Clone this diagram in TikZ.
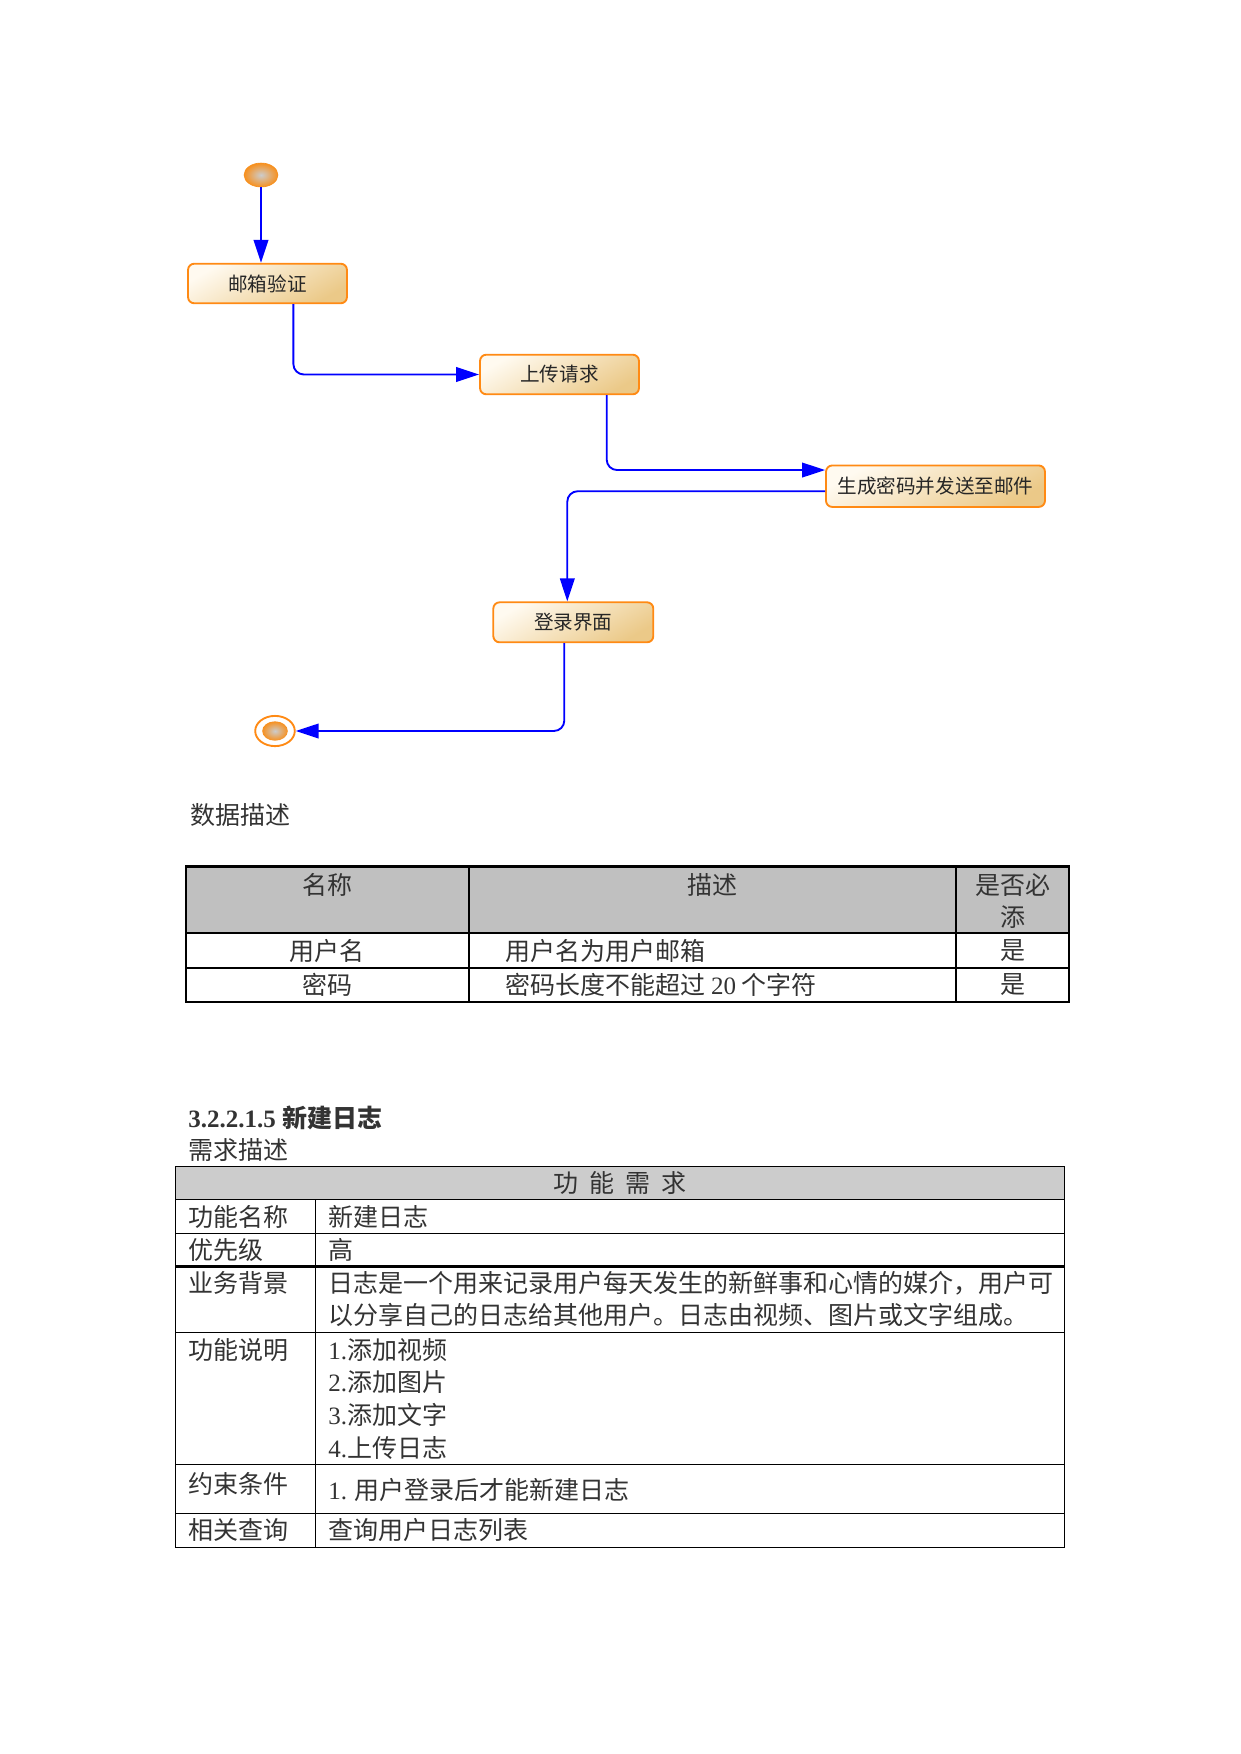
\documentclass[tikz,border=0pt]{standalone}
\usepackage{fontspec}
\setmainfont{Liberation Serif}
\newfontfamily\cjk{Noto Sans CJK SC}
\usetikzlibrary{arrows.meta,shapes.geometric}
\newcommand\latn[1]{{\rmfamily #1}}
\definecolor{boxline}{HTML}{FF8A14}
\definecolor{boxlight}{HTML}{FFFAF0}
\definecolor{boxdark}{HTML}{EBC988}
\definecolor{dotorange}{HTML}{F7901E}
\definecolor{flowblue}{HTML}{0000FF}
\definecolor{headgray}{HTML}{C0C0C0}
\definecolor{headgrayb}{HTML}{CCCCCC}
\tikzset{
  actbox/.style = {rectangle, rounded corners = 3pt, draw = boxline, line width = 0.9pt,
    top color = boxlight, bottom color = boxdark, shading angle = 30, inner sep = 0pt,
    font = \cjk\fontsize{9.4}{11}\selectfont, text = black!85},
  startdot/.style = {ellipse, inner sep = 0pt, minimum width = 16.3pt, minimum height = 11.5pt,
    inner color = gray!40, outer color = dotorange, draw = dotorange, line width = 0.3pt},
  finalring/.style = {ellipse, inner sep = 0pt, minimum width = 19pt, minimum height = 14.5pt,
    draw = boxline, line width = 0.9pt},
  finaldot/.style = {ellipse, inner sep = 0pt, minimum width = 12.3pt, minimum height = 9.3pt,
    inner color = gray!40, outer color = dotorange},
  flow/.style = {draw = flowblue, line width = 0.9pt, rounded corners = 5pt,
    -{Triangle[length = 11pt, width = 7pt]}},
  txt/.style = {inner sep = 0pt, font = \cjk\fontsize{12}{14}\selectfont, text = black!80},
  thickrule/.style = {line width = 1pt},
  thinrule/.style = {line width = 0.6pt}
}
\begin{document}
\begin{tikzpicture}[x = 0.48pt, y = -0.48pt]
\useasboundingbox (0,0) rectangle (1241,1754);

\node[startdot] (init) at (261,175) {};
\node[actbox, minimum width = 76.3pt, minimum height = 19pt] (verify) at (267.5,283.5) {邮箱验证};
\node[actbox, minimum width = 76.3pt, minimum height = 19pt] (upload) at (559.5,374.5) {上传请求};
\node[actbox, minimum width = 105.1pt, minimum height = 19.9pt] (genpwd) at (935.5,486.2) {生成密码并发送至邮件};
\node[actbox, minimum width = 76.8pt, minimum height = 19.2pt] (login) at (573.3,622.3) {登录界面};
\node[finalring] (final) at (275,731) {};
\node[finaldot] (finalcore) at (final.center) {};

\draw[flow] (init) -- (init |- verify.north);
\draw[flow] ([shift = {(106.3,0)}]verify.south west) |- (upload.west);
\draw[flow] ([shift = {(127.6,0)}]upload.south west) |- ([shift = {(0,5.5)}]genpwd.north west);
\draw[flow] ([shift = {(0,5)}]genpwd.west) -| ([shift = {(-6,0)}]login.north);
\draw[flow] ([shift = {(-9,0)}]login.south) |- (final.east);

\node[txt, anchor = west] (datatitle) at (190,815) {数据描述};

\fill[headgray] (185.7,866.5) rectangle (1069.3,933.3);
\draw[thickrule] (185.7,866.5) rectangle (1069.3,1001.7);
\draw[thickrule] (185.7,933.3) -- (1069.3,933.3) (185.7,968) -- (1069.3,968)
  (469,866.5) -- (469,1001.7) (956,866.5) -- (956,1001.7);
\node[txt] (hname) at (327.4,885) {名称};
\node[txt] (hdesc) at (712.5,885) {描述};
\node[txt] (hneed) at (1012.6,885) {是否必};
\node[txt] (hneedb) at (1012.6,916.7) {添};
\node[txt] (uname) at (327.4,951) {用户名};
\node[txt, anchor = west] (unamedesc) at (505,951) {用户名为用户邮箱};
\node[txt] (unameneed) at (1012.6,951) {是};
\node[txt] (pwd) at (327.4,985) {密码};
\node[txt, anchor = west] (pwddesc) at (505,985) {密码长度不能超过 \latn{20} 个字符};
\node[txt] (pwdneed) at (1012.6,985) {是};

\node[txt, anchor = west, font = \bfseries\fontsize{12}{14}\selectfont] (sechead) at (188,1118) {3.2.2.1.5 {\cjk 新建日志}};
\node[txt, anchor = west] (reqtitle) at (188,1150) {需求描述};

\fill[headgrayb] (175.7,1166.7) rectangle (1064.3,1199.3);
\draw[thinrule] (175.7,1166.7) rectangle (1064.3,1547.7);
\draw[thinrule] (175.7,1199.3) -- (1064.3,1199.3) (175.7,1233.3) -- (1064.3,1233.3)
  (175.7,1332.8) -- (1064.3,1332.8) (175.7,1464.3) -- (1064.3,1464.3)
  (175.7,1513.5) -- (1064.3,1513.5) (315.7,1199.3) -- (315.7,1547.7);
\draw[line width = 1.4pt] (175.7,1266.5) -- (1064.3,1266.5);
\node[txt] (funchead) at (620,1183) {功\hspace{.45em}能\hspace{.45em}需\hspace{.45em}求};
\node[txt, anchor = west] (fname) at (188,1216.5) {功能名称};
\node[txt, anchor = west] (fnameval) at (328,1216.5) {新建日志};
\node[txt, anchor = west] (prio) at (188,1250) {优先级};
\node[txt, anchor = west] (prioval) at (328,1250) {高};
\node[txt, anchor = west] (bg) at (188,1283) {业务背景};
\node[txt, anchor = west] (bgval) at (328,1283) {日志是一个用来记录用户每天发生的新鲜事和心情的媒介，用户可};
\node[txt, anchor = west] (bgvalb) at (328,1315) {以分享自己的日志给其他用户。日志由视频、图片或文字组成。};
\node[txt, anchor = west] (func) at (188,1350.5) {功能说明};
\node[txt, anchor = west] (funca) at (328,1350.5) {\latn{1.}添加视频};
\node[txt, anchor = west] (funcb) at (328,1382.5) {\latn{2.}添加图片};
\node[txt, anchor = west] (funcc) at (328,1415) {\latn{3.}添加文字};
\node[txt, anchor = west] (funcd) at (328,1447.5) {\latn{4.}上传日志};
\node[txt, anchor = west] (limit) at (188,1483.5) {约束条件};
\node[txt, anchor = west] (limitval) at (328,1490) {\latn{1.} 用户登录后才能新建日志};
\node[txt, anchor = west] (query) at (188,1530) {相关查询};
\node[txt, anchor = west] (queryval) at (328,1530) {查询用户日志列表};
\end{tikzpicture}
\end{document}
